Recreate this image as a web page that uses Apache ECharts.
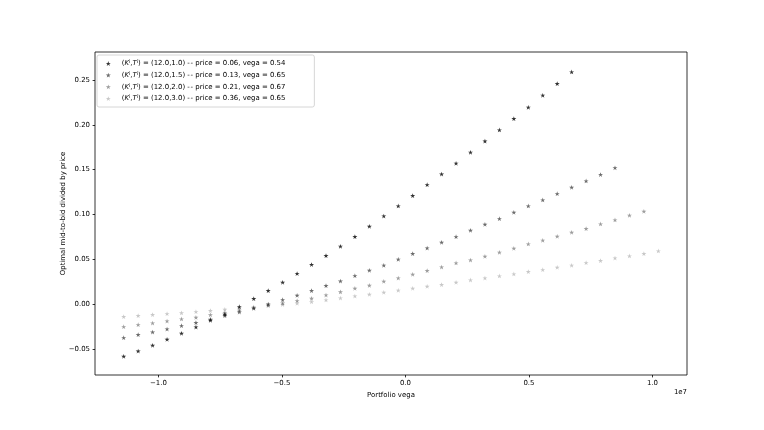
<!DOCTYPE html>
<html>
<head>
<meta charset="utf-8">
<script src="https://cdn.jsdelivr.net/npm/echarts@6/dist/echarts.min.js"></script>
<style>
html,body{margin:0;padding:0;background:#fff;}
#chart{width:764px;height:430px;}
</style>
</head>
<body>
<div id="chart"></div>
<script>
// Portfolio vega grid (x values)
const vega = [-1.1405e7, -1.0820e7, -1.0235e7, -0.9650e7, -0.9065e7, -0.8480e7, -0.7895e7, -0.7310e7,
  -0.6725e7, -0.6140e7, -0.5555e7, -0.4970e7, -0.4385e7, -0.3800e7, -0.3215e7, -0.2630e7, -0.2045e7,
  -0.1460e7, -0.0875e7, -0.0290e7, 0.0295e7, 0.0880e7, 0.1465e7, 0.2050e7, 0.2635e7, 0.3220e7,
  0.3805e7, 0.4390e7, 0.4975e7, 0.5560e7, 0.6145e7, 0.6730e7, 0.7315e7, 0.7900e7, 0.8485e7,
  0.9070e7, 0.9655e7, 1.0240e7];

// Optimal mid-to-bid divided by price, per option
const seriesT10 = [-0.0584, -0.0525, -0.0461, -0.0394, -0.0327, -0.0257, -0.0182, -0.0115, -0.0030,
  0.0060, 0.0149, 0.0242, 0.0340, 0.0440, 0.0540, 0.0644, 0.0752, 0.0867, 0.0982, 0.1094, 0.1209,
  0.1331, 0.1450, 0.1570, 0.1693, 0.1817, 0.1942, 0.2068, 0.2195, 0.2329, 0.2459, 0.2589];
const seriesT15 = [-0.0376, -0.0342, -0.0313, -0.0279, -0.0242, -0.0208, -0.0171, -0.0130, -0.0090,
  -0.0048, 0.0000, 0.0048, 0.0097, 0.0149, 0.0205, 0.0256, 0.0316, 0.0376, 0.0432, 0.0499, 0.0562,
  0.0625, 0.0688, 0.0751, 0.0822, 0.0889, 0.0952, 0.1023, 0.1094, 0.1161, 0.1231, 0.1302, 0.1373,
  0.1445, 0.1520];
const seriesT20 = [-0.0253, -0.0231, -0.0212, -0.0190, -0.0167, -0.0149, -0.0121, -0.0095, -0.0070,
  -0.0042, -0.0013, 0.0010, 0.0037, 0.0063, 0.0100, 0.0135, 0.0175, 0.0208, 0.0253, 0.0290, 0.0331,
  0.0372, 0.0413, 0.0458, 0.0491, 0.0532, 0.0577, 0.0621, 0.0670, 0.0711, 0.0755, 0.0800, 0.0841,
  0.0893, 0.0938, 0.0990, 0.1034];
const seriesT30 = [-0.0141, -0.0130, -0.0119, -0.0108, -0.0099, -0.0086, -0.0074, -0.0060, -0.0046,
  -0.0032, -0.0019, -0.0006, 0.0008, 0.0024, 0.0045, 0.0067, 0.0089, 0.0108, 0.0130, 0.0153, 0.0175,
  0.0197, 0.0216, 0.0242, 0.0268, 0.0290, 0.0313, 0.0335, 0.0361, 0.0383, 0.0409, 0.0432, 0.0461,
  0.0484, 0.0513, 0.0536, 0.0562, 0.0592];

// Legend contents
const optKT = ['(12.0,1.0)', '(12.0,1.5)', '(12.0,2.0)', '(12.0,3.0)'];
const optPrice = ['0.06', '0.13', '0.21', '0.36'];
const optVega = ['0.54', '0.65', '0.67', '0.65'];

// Tick values and labels
const xTickValues = [-1.0e7, -0.5e7, 0, 0.5e7, 1.0e7];
const xTickLabels = ['\u22121.0', '\u22120.5', '0.0', '0.5', '1.0'];
const yTickValues = [-0.05, 0.00, 0.05, 0.10, 0.15, 0.20, 0.25];
const yTickLabels = ['\u22120.05', '0.00', '0.05', '0.10', '0.15', '0.20', '0.25'];

const FONT = 'DejaVu Sans';
const FS = 6.94;
const STAR = 'path://M100,0L77.55,69.1L4.9,69.1L63.67,111.8L41.2,180.9L100,138.2L158.8,180.9L136.33,111.8L195.1,69.1L122.45,69.1Z';
const alphas = [1, 0.72, 0.48, 0.27];
const allSeries = [seriesT10, seriesT15, seriesT20, seriesT30];

const names = optKT.map((kt, i) => 'KT = ' + kt + ' -- price = ' + optPrice[i] + ', vega = ' + optVega[i]);

function lookup(vals, labels, v) {
  for (let i = 0; i < vals.length; i++) {
    if (Math.abs(vals[i] - v) < 1e-9 * Math.max(1, Math.abs(vals[i]))) return labels[i];
  }
  return '';
}

const chart = echarts.init(document.getElementById('chart'), null, {renderer: 'canvas'});
chart.setOption({
  animation: false,
  backgroundColor: '#ffffff',
  textStyle: {fontFamily: FONT},
  grid: {left: 95, top: 52, width: 592, height: 323, show: true, borderColor: '#000', borderWidth: 0.8, backgroundColor: 'transparent'},
  xAxis: {
    type: 'value', min: -1.2567e7, max: 1.140e7,
    name: 'Portfolio vega', nameLocation: 'middle', nameGap: 15,
    nameTextStyle: {fontFamily: FONT, fontSize: FS, color: '#000'},
    axisLine: {show: false, onZero: false},
    splitLine: {show: false},
    axisTick: {show: true, length: 2.4, lineStyle: {color: '#000', width: 0.8}, customValues: xTickValues},
    axisLabel: {fontFamily: FONT, fontSize: FS, color: '#000', margin: 4.5, customValues: xTickValues,
      formatter: v => lookup(xTickValues, xTickLabels, v)}
  },
  yAxis: {
    type: 'value', min: -0.0792, max: 0.2812,
    name: 'Optimal mid-to-bid divided by price', nameLocation: 'middle', nameGap: 28, nameRotate: 90,
    nameMoveOverlap: false,
    nameTextStyle: {fontFamily: FONT, fontSize: FS, color: '#000'},
    axisLine: {show: false, onZero: false},
    splitLine: {show: false},
    axisTick: {show: true, length: 2.4, lineStyle: {color: '#000', width: 0.8}, customValues: yTickValues},
    axisLabel: {fontFamily: FONT, fontSize: FS, color: '#000', margin: 5, customValues: yTickValues,
      formatter: v => lookup(yTickValues, yTickLabels, v)}
  },
  legend: {
    orient: 'vertical', left: 97, top: 55,
    padding: [4.5, 29, 4.5, 8.8],
    itemWidth: 5, itemHeight: 5, itemGap: 3.67,
    icon: STAR,
    backgroundColor: 'rgba(255,255,255,0.8)',
    borderColor: '#cccccc', borderWidth: 0.8, borderRadius: 2,
    data: names,
    formatter: function (name) {
      const i = names.indexOf(name);
      return '{sp| }{n|(}{it|K}{sup|i}{n|,}{it|T}{sup|i}{n|) = ' + optKT[i] + ' -}{h|-}{n| price = ' + optPrice[i] + ', vega = ' + optVega[i] + '}';
    },
    textStyle: {
      fontFamily: FONT, fontSize: FS, color: '#000', lineHeight: 8,
      rich: {
        sp: {fontSize: FS, width: 5.9, lineHeight: 8},
        n: {fontFamily: FONT, fontSize: FS, color: '#000', lineHeight: 8},
        h: {fontFamily: FONT, fontSize: FS, color: '#000', lineHeight: 8, padding: [0, 0, 0, 0.8]},
        it: {fontFamily: FONT, fontSize: FS, fontStyle: 'italic', color: '#000', lineHeight: 8},
        sup: {fontFamily: FONT, fontSize: 4.8, color: '#000', lineHeight: 8, verticalAlign: 'top'}
      }
    }
  },
  graphic: [{
    type: 'text', right: 77, top: 389,
    style: {text: '1e7', fontFamily: FONT, fontSize: FS, fill: '#000'}
  }],
  series: allSeries.map((arr, si) => ({
    name: names[si],
    type: 'scatter',
    symbol: STAR,
    symbolKeepAspect: true,
    symbolSize: 5,
    itemStyle: {color: 'rgba(0,0,0,' + alphas[si] + ')'},
    data: arr.map((y, i) => [vega[i], y])
  }))
});
</script>
</body>
</html>
